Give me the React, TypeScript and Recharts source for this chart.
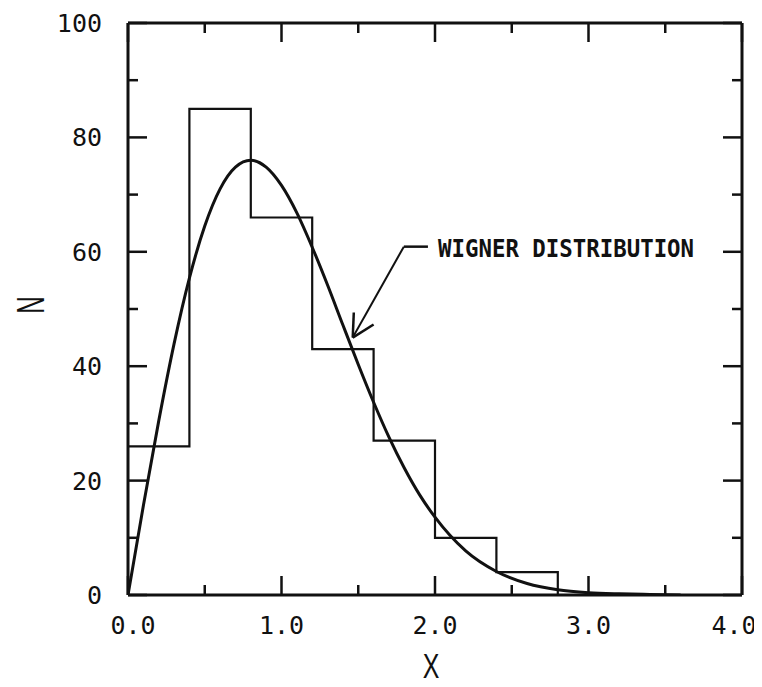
import React from 'react';
import { ComposedChart, Line, XAxis, YAxis, ReferenceLine, ReferenceDot } from 'recharts';

// Histogram: left bin edges and counts (bin width 0.4)
const binEdges = [0, 0.4, 0.8, 1.2, 1.6, 2.0, 2.4, 2.8];
const binCounts = [26, 85, 66, 43, 27, 10, 4, 0];

// Wigner distribution curve
const curveX = [0, 0.1, 0.2, 0.3, 0.4, 0.5, 0.6, 0.7, 0.8, 0.9, 1.0, 1.1, 1.2, 1.3, 1.4, 1.5, 1.6, 1.7, 1.8, 1.9, 2.0, 2.2, 2.4, 2.6, 2.8, 3.0, 3.2, 3.4, 3.6];
const curveN = [0, 15.6, 30.4, 43.9, 55.4, 64.5, 71.0, 74.8, 76.0, 74.8, 71.6, 66.8, 60.8, 54.2, 47.2, 40.3, 33.7, 27.6, 22.2, 17.5, 13.6, 7.7, 4.1, 2.0, 0.9, 0.4, 0.2, 0.1, 0];

// Axis ticks
const xTicks = [0, 0.5, 1, 1.5, 2, 2.5, 3, 3.5, 4];
const xMajor = [0, 1, 2, 3, 4];
const xMajorLabels = ['0.0', '1.0', '2.0', '3.0', '4.0'];
const yTicks = [0, 10, 20, 30, 40, 50, 60, 70, 80, 90, 100];
const yMajor = [0, 20, 40, 60, 80, 100];
const yMajorLabels = ['0', '20', '40', '60', '80', '100'];

// Annotation (in data coordinates)
const annotationText = 'WIGNER DISTRIBUTION';
const leaderPath = [
  { x: 1.464, y: 45.0 },
  { x: 1.797, y: 60.9 },
  { x: 1.954, y: 60.9 },
];
const arrowHeadA = { x: 1.471, y: 49.4 };
const arrowHeadB = { x: 1.600, y: 47.3 };
const textAnchorPt = { x: 2.02, y: 60.6 };

const histData = binEdges.map((x, i) => ({ x, n: binCounts[i] }));
const curveData = curveX.map((x, i) => ({ x, n: curveN[i] }));

const INK = '#111';
const MONO = '"DejaVu Sans Mono", "Liberation Mono", monospace';

const makeTick = (side: string) => (props: any) => {
  const { x, y, payload } = props;
  const v = payload.value;
  const isX = side === 'bottom' || side === 'top';
  const majorList = isX ? xMajor : yMajor;
  const mi = majorList.findIndex((m) => Math.abs(m - v) < 1e-6);
  const major = mi >= 0;
  const len = major ? 19 : 10;
  let x2 = x, y2 = y;
  if (side === 'bottom') y2 = y - len;
  if (side === 'top') y2 = y + len;
  if (side === 'left') x2 = x + len;
  if (side === 'right') x2 = x - len;
  let label = null;
  if (major && side === 'bottom') {
    const shift = mi === 0 ? 5 : mi === xMajor.length - 1 ? -8 : 0;
    label = (
      <text x={x + shift} y={y + 39} textAnchor="middle" fontFamily={MONO} fontSize={25} fill={INK}>
        {xMajorLabels[mi]}
      </text>
    );
  }
  if (major && side === 'left') {
    label = (
      <text x={x - 26} y={y + 9} textAnchor="end" fontFamily={MONO} fontSize={25} fill={INK}>
        {yMajorLabels[mi]}
      </text>
    );
  }
  return (
    <g>
      <line x1={x} y1={y} x2={x2} y2={y2} stroke={INK} strokeWidth={2.5} />
      {label}
    </g>
  );
};

const axisLineStyle = { stroke: INK, strokeWidth: 3 };

export default function App() {
  return (
    <div style={{ background: '#fff', width: 754, height: 687, marginTop: -8, marginBottom: -8 }}>
      <ComposedChart width={754} height={687} margin={{ top: 22, right: 19, bottom: 0, left: 0 }}>
        <XAxis
          xAxisId={0}
          dataKey="x"
          type="number"
          domain={[0, 4]}
          ticks={xTicks}
          interval={0}
          allowDataOverflow
          height={92}
          tickSize={0}
          tickMargin={0}
          tickLine={false}
          axisLine={axisLineStyle}
          tick={makeTick('bottom')}
          label={(p: any) => {
            const vb = p.viewBox || {};
            const cx = vb.x + vb.width / 2 - 4;
            const cy = vb.y + 83;
            return (
              <text transform={`translate(${cx},${cy}) scale(0.78,1.12)`} textAnchor="middle" fontFamily='"Liberation Sans", Arial, sans-serif' fontSize={32} fill={INK}>
                X
              </text>
            );
          }}
        />
        <XAxis
          xAxisId="top"
          orientation="top"
          dataKey="x"
          type="number"
          domain={[0, 4]}
          ticks={xTicks}
          interval={0}
          allowDataOverflow
          height={1}
          tickSize={0}
          tickMargin={0}
          tickLine={false}
          axisLine={axisLineStyle}
          tick={makeTick('top')}
        />
        <YAxis
          yAxisId={0}
          type="number"
          domain={[0, 100]}
          ticks={yTicks}
          interval={0}
          allowDataOverflow
          width={120}
          tickSize={0}
          tickMargin={0}
          tickLine={false}
          axisLine={axisLineStyle}
          tick={makeTick('left')}
          label={(p: any) => {
            const vb = p.viewBox || {};
            const cx = vb.x + 22;
            const cy = vb.y + vb.height / 2 - 4;
            return (
              <text transform={`translate(${cx},${cy}) rotate(-90) scale(0.62,1)`} textAnchor="middle" dy={14} fontFamily='"Liberation Sans", Arial, sans-serif' fontSize={39} fill={INK}>
                N
              </text>
            );
          }}
        />
        <YAxis
          yAxisId="right"
          orientation="right"
          type="number"
          domain={[0, 100]}
          ticks={yTicks}
          interval={0}
          allowDataOverflow
          width={1}
          tickSize={0}
          tickMargin={0}
          tickLine={false}
          axisLine={axisLineStyle}
          tick={makeTick('right')}
        />
        <Line
          xAxisId="top"
          yAxisId="right"
          data={histData}
          dataKey="n"
          stroke="none"
          strokeWidth={0}
          dot={false}
          activeDot={false}
          legendType="none"
          isAnimationActive={false}
        />
        <Line
          data={histData}
          dataKey="n"
          type="stepAfter"
          stroke={INK}
          strokeWidth={2.2}
          dot={false}
          isAnimationActive={false}
        />
        <Line
          data={curveData}
          dataKey="n"
          type="monotone"
          stroke={INK}
          strokeWidth={3}
          dot={false}
          isAnimationActive={false}
        />
        <ReferenceLine segment={[leaderPath[0], leaderPath[1]]} stroke={INK} strokeWidth={2} ifOverflow="visible" />
        <ReferenceLine segment={[leaderPath[1], leaderPath[2]]} stroke={INK} strokeWidth={2.5} ifOverflow="visible" />
        <ReferenceLine segment={[leaderPath[0], arrowHeadA]} stroke={INK} strokeWidth={2.5} ifOverflow="visible" />
        <ReferenceLine segment={[leaderPath[0], arrowHeadB]} stroke={INK} strokeWidth={2.5} ifOverflow="visible" />
        <ReferenceDot
          x={textAnchorPt.x}
          y={textAnchorPt.y}
          r={1}
          ifOverflow="visible"
          shape={(p: any) => (
            <text
              x={p.cx}
              y={p.cy + 9}
              fontFamily={MONO}
              fontWeight="bold"
              fontSize={24}
              textLength={256}
              lengthAdjust="spacingAndGlyphs"
              fill={INK}
            >
              {annotationText}
            </text>
          )}
        />
      </ComposedChart>
    </div>
  );
}
